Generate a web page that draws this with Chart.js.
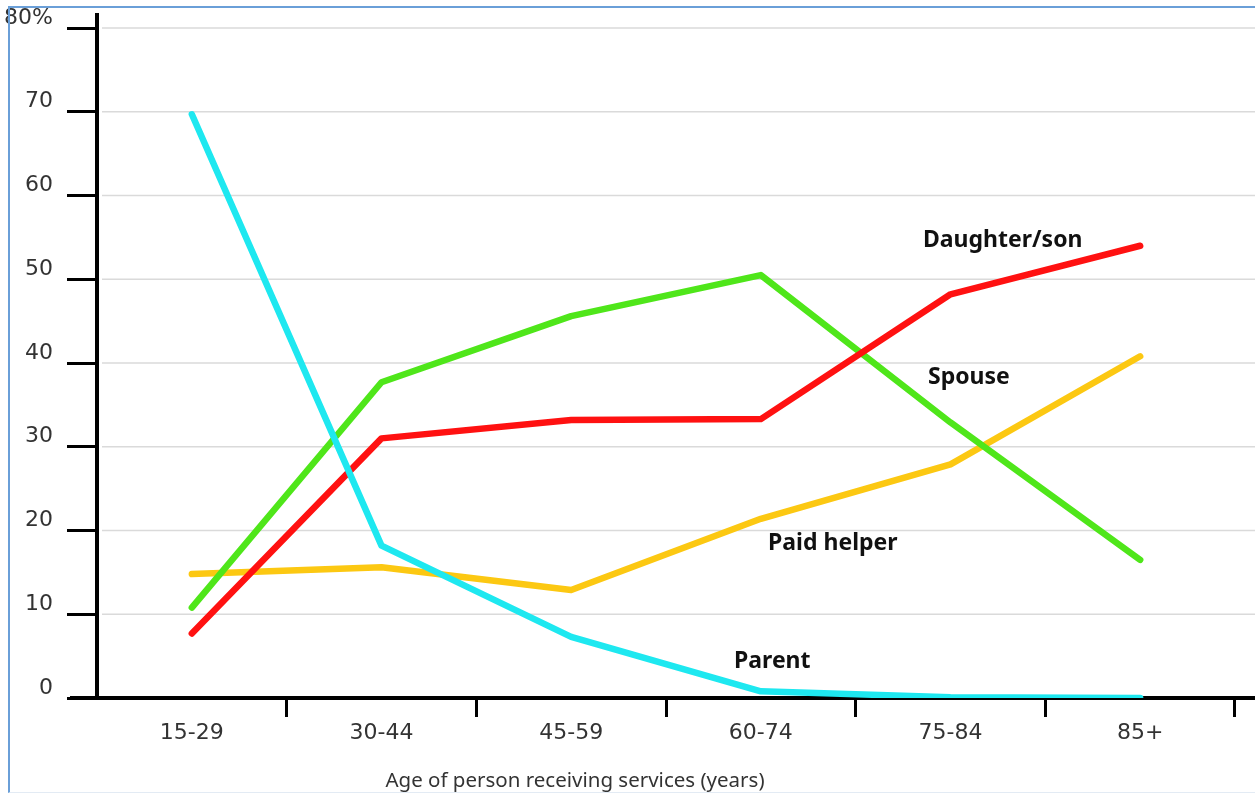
<!DOCTYPE html>
<html>
<head>
<meta charset="utf-8">
<script src="https://cdn.jsdelivr.net/npm/chart.js@4.4.0/dist/chart.umd.min.js"></script>
<style>
  html, body { margin: 0; padding: 0; background: #fff; }
  #wrap { position: relative; width: 1255px; height: 794px; overflow: hidden; }
  #frame { position: absolute; left: 8px; top: 6px; right: -4px; bottom: 1px;
           border-left: 2px solid #6a9fd8; border-top: 2px solid #6a9fd8;
           border-bottom: 1px solid #e3ebf4; pointer-events: none; }
</style>
</head>
<body>
<div id="wrap">
  <canvas id="chart" width="1255" height="794"></canvas>
  <div id="frame"></div>
</div>
<script>
const ages = ['15-29', '30-44', '45-59', '60-74', '75-84', '85+'];
const parentVals = [69.7, 18.2, 7.3, 0.8, 0.1, 0];
const daughterSonVals = [7.7, 31.0, 33.2, 33.3, 48.2, 54.0];
const spouseVals = [10.8, 37.7, 45.6, 50.5, 32.9, 16.5];
const paidHelperVals = [14.8, 15.6, 12.9, 21.4, 27.9, 40.8];
const yTicks = [0, 10, 20, 30, 40, 50, 60, 70, 80];
const xTitle = 'Age of person receiving services (years)';

const line = (label, data, color) => ({
  label, data, borderColor: color, backgroundColor: color,
  borderWidth: 6.5, pointRadius: 0, tension: 0,
  borderCapStyle: 'round', borderJoinStyle: 'round', fill: false
});

// gridlines and axes run past the chart area to the right edge
const axesPlugin = {
  id: 'axes',
  beforeDatasetsDraw(chart) {
    const { ctx, chartArea: a, scales: { y } } = chart;
    ctx.save();
    ctx.strokeStyle = '#dadada';
    ctx.lineWidth = 1.5;
    yTicks.filter(v => v > 0).forEach(v => {
      const py = y.getPixelForValue(v);
      ctx.beginPath();
      ctx.moveTo(a.left + 5, py);
      ctx.lineTo(chart.width, py);
      ctx.stroke();
    });
    ctx.strokeStyle = '#000';
    ctx.lineWidth = 4;
    const y0 = y.getPixelForValue(0);
    ctx.beginPath();
    ctx.moveTo(70, y0);
    ctx.lineTo(chart.width, y0);
    ctx.stroke();
    ctx.beginPath();
    ctx.moveTo(a.left, 13);
    ctx.lineTo(a.left, y0 + 2);
    ctx.stroke();
    ctx.restore();
  },
  afterDraw(chart) {
    const { ctx } = chart;
    ctx.save();
    ctx.fillStyle = '#111';
    ctx.font = 'bold 23px "Noto Sans"';
    ctx.textAlign = 'left';
    ctx.textBaseline = 'middle';
    ctx.fillText('Daughter/son', 923, 240);
    ctx.fillText('Spouse', 928, 377);
    ctx.fillText('Paid helper', 768, 543);
    ctx.fillText('Parent', 734, 661);
    ctx.fillStyle = '#333';
    ctx.font = '20.5px "Noto Sans"';
    ctx.textAlign = 'center';
    ctx.fillText(xTitle, 575, 781);
    ctx.restore();
  }
};

new Chart(document.getElementById('chart').getContext('2d'), {
  type: 'line',
  data: {
    labels: ages,
    datasets: [
      line('Parent', parentVals, '#1ee8f0'),
      line('Daughter/son', daughterSonVals, '#ff1111'),
      line('Spouse', spouseVals, '#4fe61a'),
      line('Paid helper', paidHelperVals, '#fcc812')
    ]
  },
  options: {
    responsive: false,
    animation: false,
    layout: { padding: { top: 28, right: 20, left: 0, bottom: 0 } },
    plugins: { legend: { display: false }, tooltip: { enabled: false } },
    scales: {
      x: {
        type: 'category',
        offset: true,
        border: { display: false },
        grid: {
          offset: true, drawOnChartArea: false, tickLength: 19, tickWidth: 3,
          tickColor: (c) => (c.index === 0 ? 'rgba(0,0,0,0)' : '#000')
        },
        ticks: { color: '#333', font: { family: 'DejaVu Sans', size: 22 }, padding: 3, maxRotation: 0, autoSkip: false },
        afterFit: (s) => { s.height = 96; }
      },
      y: {
        min: 0, max: 80,
        border: { display: false },
        grid: { drawOnChartArea: false, tickLength: 30, tickWidth: 3, tickColor: '#000' },
        ticks: {
          stepSize: 10, color: '#333', padding: 14, labelOffset: -10,
          font: { family: 'DejaVu Sans', size: 22 },
          callback: (v) => (v === 80 ? '80%' : v)
        },
        afterFit: (s) => { s.width = 97; }
      }
    }
  },
  plugins: [axesPlugin]
});
</script>
</body>
</html>
